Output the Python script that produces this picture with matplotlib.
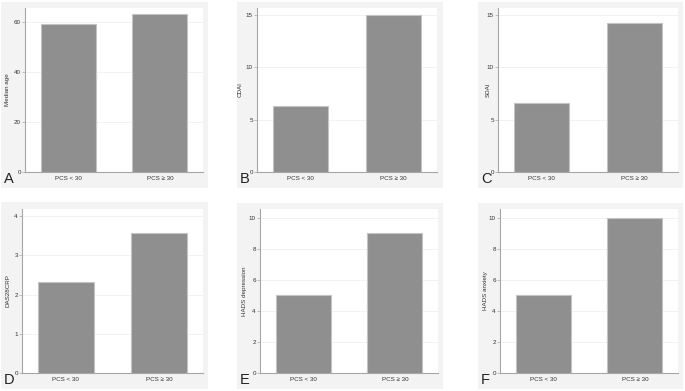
import numpy as np
import matplotlib
matplotlib.use("Agg")
import matplotlib.pyplot as plt
from matplotlib.patches import Rectangle

plt.rcParams['font.family'] = ['Liberation Sans', 'DejaVu Sans']

# data
groups = ["PCS < 30", "PCS \u2265 30"]
median_age = [59.1, 63.0]
cdai = [6.3, 15.0]
sdai = [6.6, 14.25]
das28crp = [2.33, 3.58]
hads_depression = [5.0, 9.0]
hads_anxiety = [5.0, 10.0]

W, H = 685, 391
fig = plt.figure(figsize=(W / 100, H / 100), dpi=100)
fig.patch.set_facecolor("white")


def px_rect(x0, y0, x1, y1):
    # pixel box (top-left origin) -> figure fraction [l, b, w, h]
    return [x0 / W, 1 - y1 / H, (x1 - x0) / W, (y1 - y0) / H]


panels = [
    # letter, ylabel, values, ticks, ymax, background box, plot box, label offset px
    ("A", "Median age", median_age, [0, 20, 40, 60], 65.6, (1, 2, 208, 188), (25, 8, 203, 172), 15),
    ("B", "CDAI", cdai, [0, 5, 10, 15], 15.66, (237, 2, 443, 188), (257, 8, 437, 172), 14),
    ("C", "SDAI", sdai, [0, 5, 10, 15], 15.66, (478, 2, 683, 188), (498, 8, 678, 172), 7),
    ("D", "DAS28CRP", das28crp, [0, 1, 2, 3, 4], 4.18, (1, 202, 208, 389), (22, 209, 203, 373), 12),
    ("E", "HADS depression", hads_depression, [0, 2, 4, 6, 8, 10], 10.58, (237, 203, 443, 389), (260, 209, 438, 373), 13),
    ("F", "HADS anxiety", hads_anxiety, [0, 2, 4, 6, 8, 10], 10.58, (478, 203, 683, 389), (500, 209, 678, 373), 12),
]

axis_col = "#a6a6a6"
for letter, ylabel, vals, ticks, ymax, bg, box, loff in panels:
    l, b, w, h = px_rect(*bg)
    fig.patches.append(Rectangle((l, b), w, h, transform=fig.transFigure,
                                 facecolor="#f3f3f3", edgecolor="none", zorder=0))
    ax = fig.add_axes(px_rect(*box), zorder=2)
    ax.set_facecolor("white")
    x = np.arange(len(groups))
    ax.bar(x, vals, width=0.6, color="#8f8f8f", edgecolor="#c4c4c4", linewidth=0.8, zorder=3)
    ax.set_xlim(-0.47, 1.47)
    ax.set_ylim(0, ymax)
    ax.set_yticks(ticks)
    ax.set_yticklabels([str(t) for t in ticks])
    ax.set_xticks(x)
    ax.set_xticklabels(groups)
    for t in ticks[1:]:
        ax.axhline(t, color="#f0f0f0", linewidth=0.6, zorder=1)
    ax.tick_params(axis="y", length=2, width=0.5, color=axis_col, labelsize=4.5, pad=1, labelcolor="#333333")
    ax.tick_params(axis="x", length=0, labelsize=4.5, pad=3, labelcolor="#333333")
    for s in ["top", "right"]:
        ax.spines[s].set_visible(False)
    for s in ["left", "bottom"]:
        ax.spines[s].set_color(axis_col)
        ax.spines[s].set_linewidth(0.8)
    ax.set_ylabel(ylabel, fontsize=4.5, color="#333333")
    ax.yaxis.set_label_coords(-loff / (box[2] - box[0]), 0.5)
    fig.text((bg[0] + 3) / W, 1 - (bg[3] - 2) / H, letter, fontsize=10.5,
             ha="left", va="bottom", color="#222222", zorder=5)

fig.savefig("out.png", dpi=100)
